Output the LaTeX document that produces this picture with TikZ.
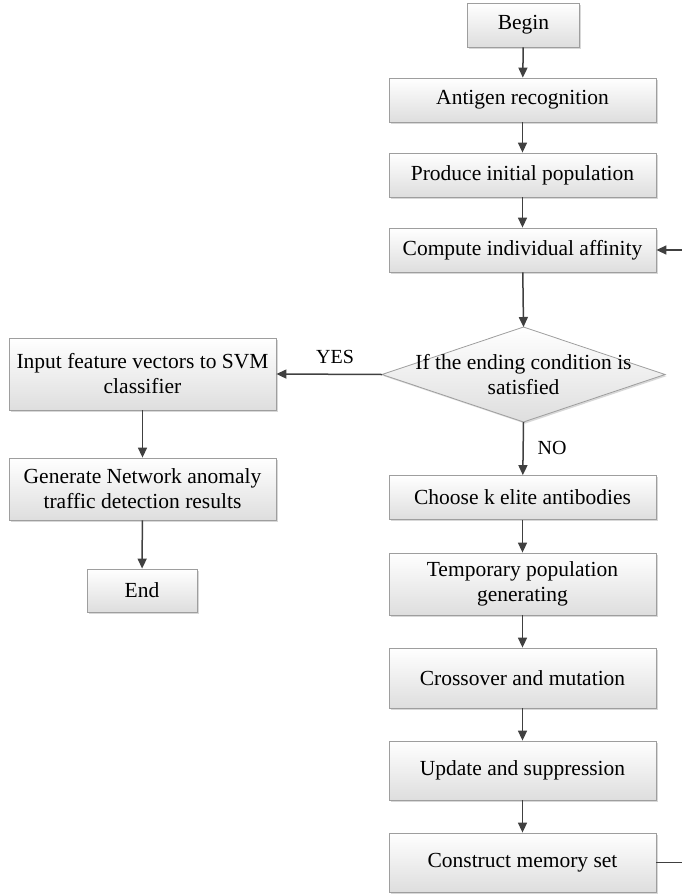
\documentclass[tikz,border=0pt]{standalone}
\usepackage{fontspec}
\setmainfont{Liberation Serif}
\usetikzlibrary{arrows.meta,shadows}
\begin{document}
\begin{tikzpicture}[x=1pt,y=-1pt,
  box/.style={draw=black!38, line width=0.8pt, top color=white, bottom color=black!13,
    drop shadow={shadow xshift=1.6pt, shadow yshift=-1.6pt, fill=black!30, opacity=0.5},
    align=center, inner sep=0pt, font=\fontsize{21.5}{25}\selectfont},
  lab/.style={font=\fontsize{20}{24}\selectfont, inner sep=0pt},
  conn/.style={draw=black!75, line width=1.5pt, -{Triangle[width=9pt,length=10pt]}},
  plain/.style={draw=black!75, line width=1.5pt}]
\useasboundingbox (0,0) rectangle (681,894);
% right column
\node[box, minimum width=112, minimum height=44] (begin) at (523.5,25) {Begin};
\node[box, minimum width=267, minimum height=44] (antigen) at (522.5,100) {Antigen recognition};
\node[box, minimum width=267, minimum height=44] (produce) at (522.5,175) {Produce initial population};
\node[box, minimum width=267, minimum height=44] (compute) at (522.5,250) {Compute individual affinity};
% decision
\coordinate (dtop) at (523.5,327);
\coordinate (dbot) at (523.5,422);
\coordinate (dleft) at (382,374.5);
\coordinate (dright) at (665,374.5);
\path[draw=black!38, line width=0.8pt, top color=white, bottom color=black!13,
  drop shadow={shadow xshift=1.6pt, shadow yshift=-1.6pt, fill=black!30, opacity=0.5}]
  (dtop) -- (dright) -- (dbot) -- (dleft) -- cycle;
\node[align=center, inner sep=0pt, font=\fontsize{21.5}{25}\selectfont] (dec) at (523.5,374.5)
  {If the ending condition is\\satisfied};
\node[box, minimum width=267, minimum height=44] (choose) at (522.5,497.5) {Choose k elite antibodies};
\node[box, minimum width=267, minimum height=62] (temp) at (522.5,584) {Temporary population\\generating};
\node[box, minimum width=267, minimum height=60] (cross) at (522.5,678) {Crossover and mutation};
\node[box, minimum width=267, minimum height=59] (update) at (522.5,770.5) {Update and suppression};
\node[box, minimum width=267, minimum height=59] (construct) at (522.5,862.5) {Construct memory set};
% left column
\node[box, minimum width=267, minimum height=72] (input) at (142.5,374) {Input feature vectors to SVM\\classifier};
\node[box, minimum width=267, minimum height=62] (gen) at (142.5,489) {Generate Network anomaly\\traffic detection results};
\node[box, minimum width=110, minimum height=43] (end) at (142,590.5) {End};
% labels
\node[lab] (yes) at (335,357) {YES};
\node[lab] (no) at (552,448) {NO};
% connectors
\draw[conn] (begin) -- (antigen);
\draw[conn] (antigen) -- (produce);
\draw[conn] (produce) -- (compute);
\draw[conn] (compute) -- (dtop);
\draw[conn] (dbot) -- (choose);
\draw[conn] (dleft) -- (input.east);
\draw[conn] (choose) -- (temp);
\draw[conn] (temp) -- (cross);
\draw[conn] (cross) -- (update);
\draw[conn] (update) -- (construct);
\draw[conn] (input) -- (gen);
\draw[conn] (gen) -- (end);
\coordinate (loopb) at (685,862.5);
\coordinate (loopt) at (685,250);
\draw[plain] (construct.east) -- (loopb) -- (loopt);
\draw[conn] (loopt) -- (compute.east);
\end{tikzpicture}
\end{document}
